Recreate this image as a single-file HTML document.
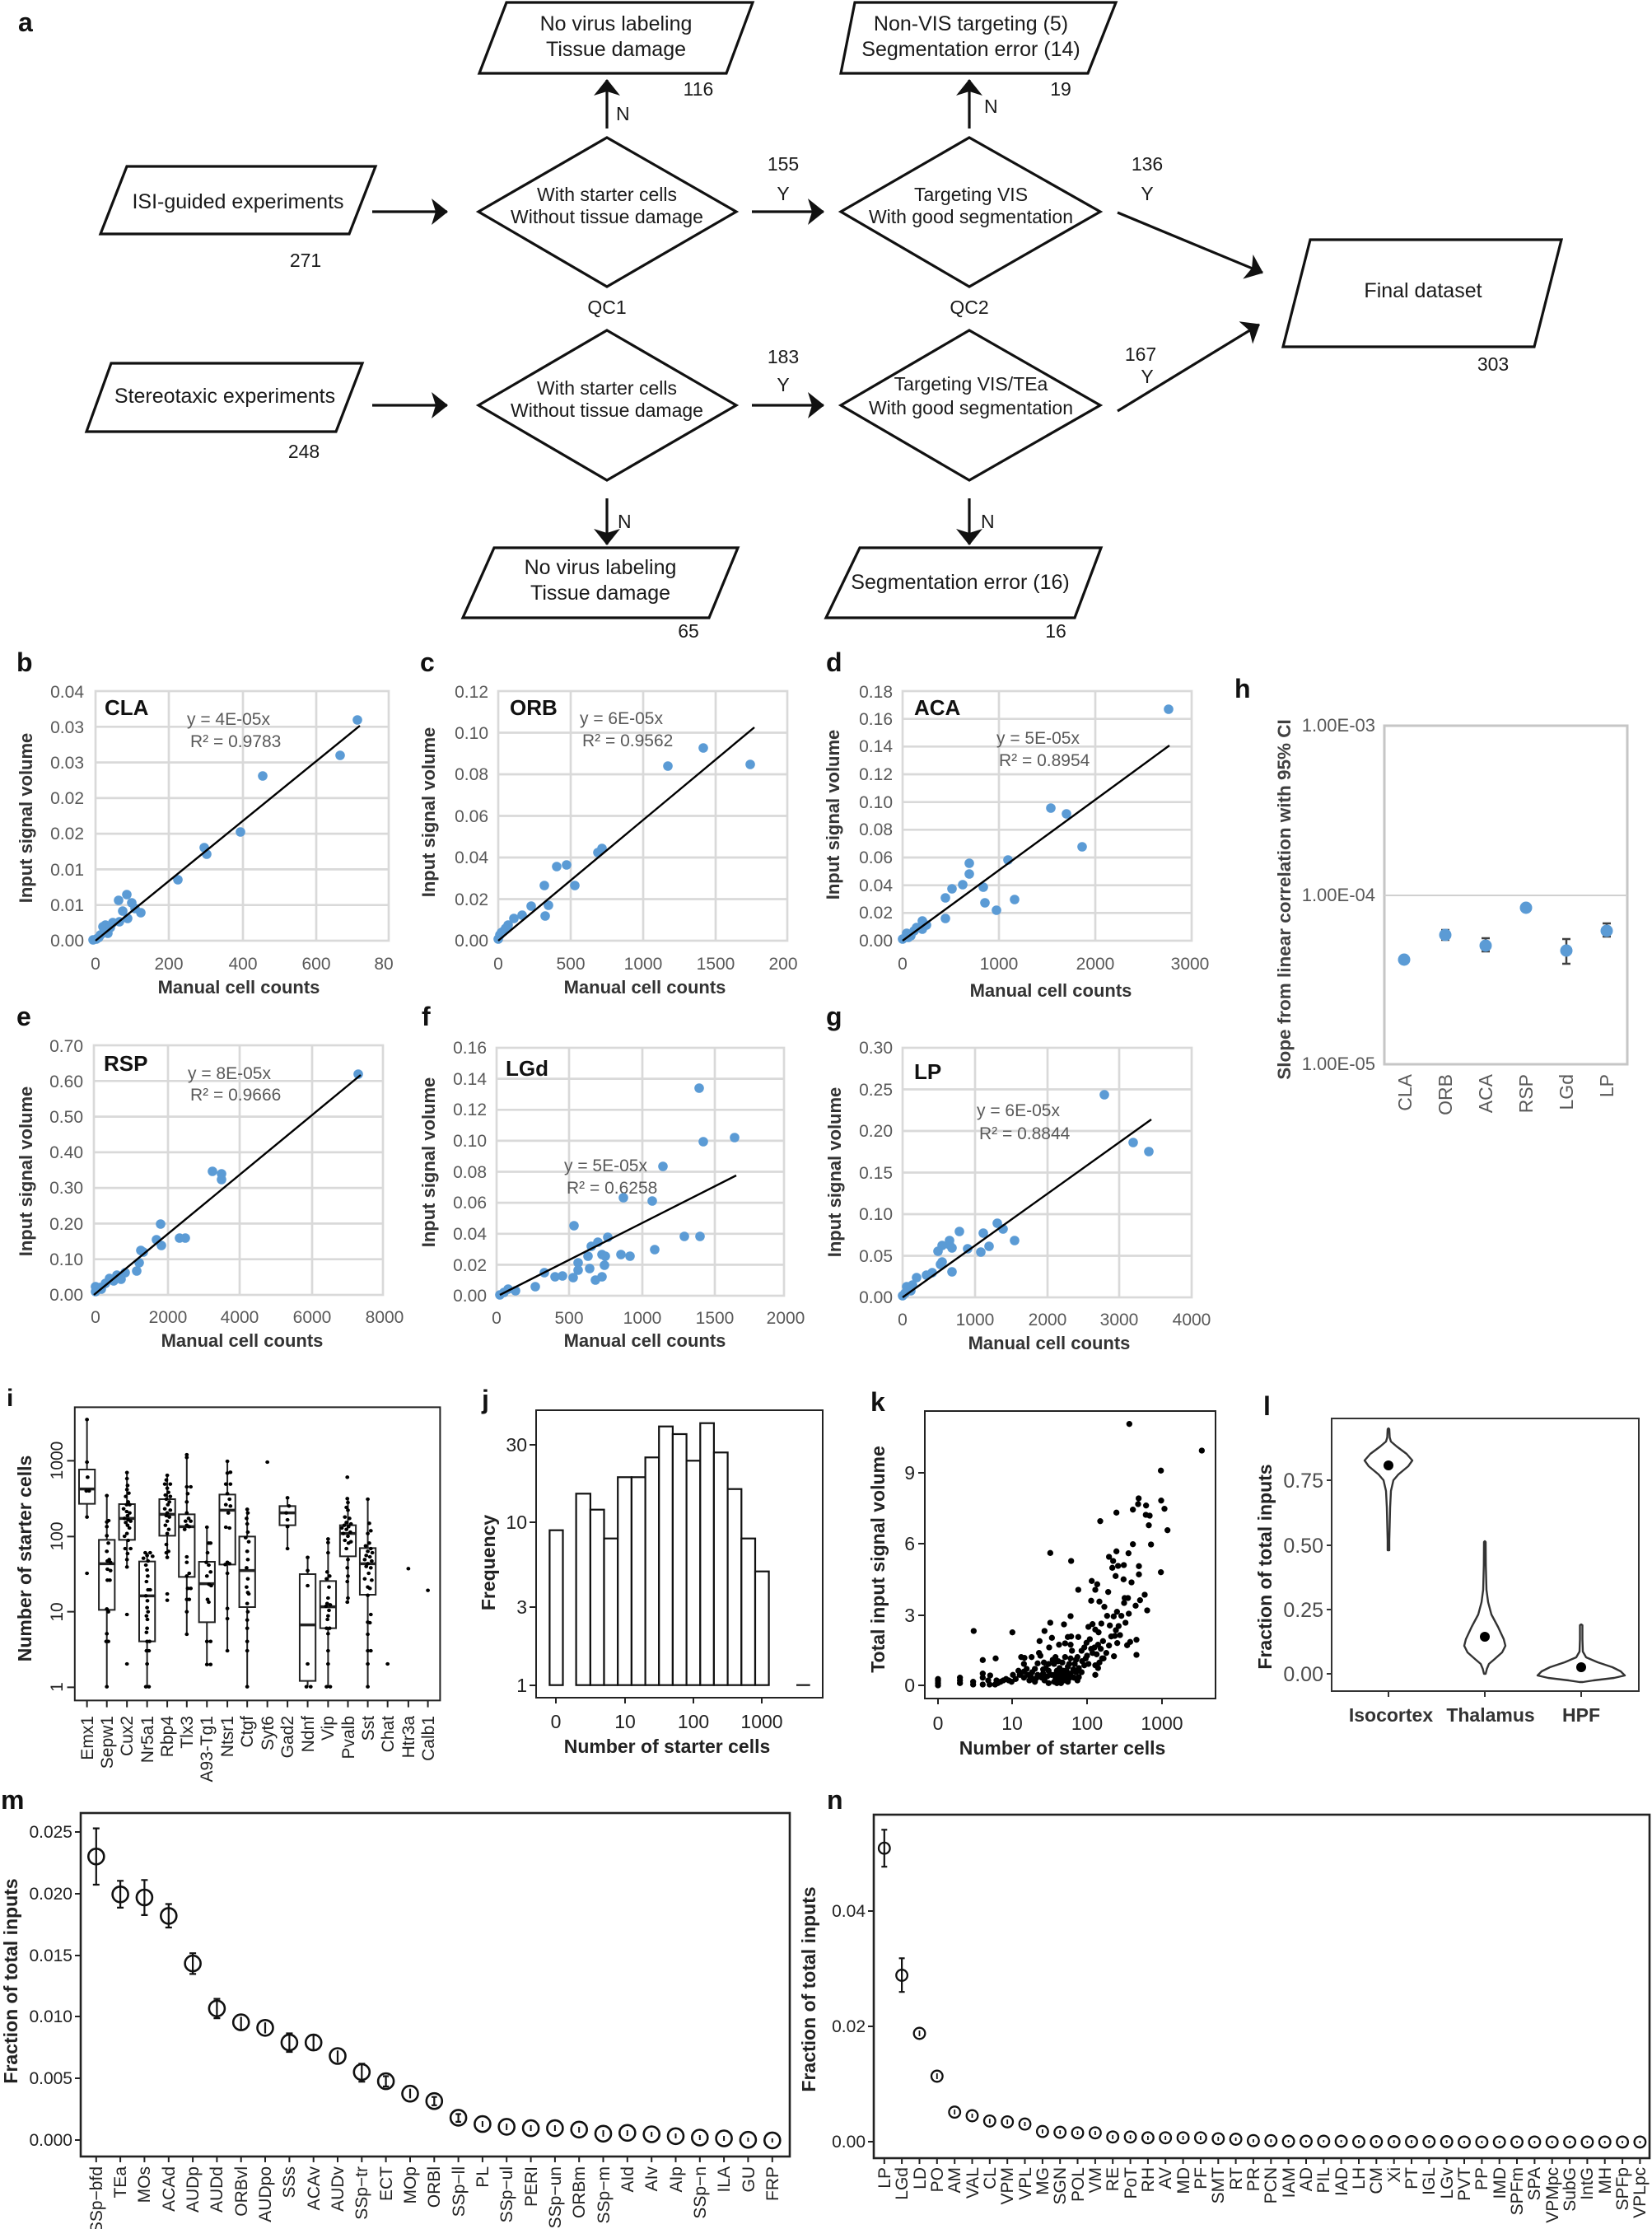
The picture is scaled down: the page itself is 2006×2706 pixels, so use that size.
<!DOCTYPE html>
<html>
<head>
<meta charset="utf-8">
<style>
html,body{margin:0;padding:0;background:#fff;}
svg{display:block;}
text{font-family:"Liberation Sans",Arial,sans-serif;}
.pl{font-size:32px;font-weight:bold;fill:#111;}
.fb{font-size:25px;fill:#1a1a1a;}
.fd{font-size:23px;fill:#1a1a1a;}
.fn{font-size:23px;fill:#1a1a1a;}
.tk{font-size:21px;fill:#595959;}
.eq{font-size:21px;fill:#595959;}
.ttl{font-size:26px;font-weight:bold;fill:#111;}
.ax{font-size:22px;font-weight:bold;fill:#333;}
.axb{font-size:23px;font-weight:bold;fill:#222;}
.rk{font-size:21px;fill:#222;}
.rk2{font-size:23px;fill:#222;}
</style>
</head>
<body>
<svg width="2006" height="2706" viewBox="0 0 2006 2706" xmlns="http://www.w3.org/2000/svg">
<defs>
<marker id="ah" viewBox="0 0 20 32" refX="19" refY="16" markerWidth="20" markerHeight="32" markerUnits="userSpaceOnUse" orient="auto">
<path d="M0,0 L20,16 L0,32 L5,16 z" fill="#111"/>
</marker>
</defs>
<rect x="0" y="0" width="2006" height="2706" fill="#fff"/>

<!-- ================= PANEL A ================= -->
<text class="pl" x="22" y="38">a</text>
<g fill="none" stroke="#111" stroke-width="3.2" stroke-linejoin="miter">
<polygon points="615,3 914,3 882,89 582,89"/>
<polygon points="1038,3 1355,3 1321,89 1021,89"/>
<polygon points="154,202 456,202 424,284 122,284"/>
<polygon points="737,167 894,257 737,348 581,257"/>
<polygon points="1177,167 1336,257 1177,348 1021,257"/>
<polygon points="1591,291 1896,291 1863,421 1558,421"/>
<polygon points="135,441 440,441 408,524 105,524"/>
<polygon points="737,401 894,492 737,583 581,492"/>
<polygon points="1177,401 1336,492 1177,583 1021,492"/>
<polygon points="600,665 896,665 861,750 562,750"/>
<polygon points="1044,665 1337,665 1305,750 1003,750"/>
</g>
<g stroke="#111" stroke-width="3.2" marker-end="url(#ah)">
<line x1="737" y1="156" x2="737" y2="97"/>
<line x1="1177" y1="156" x2="1177" y2="97"/>
<line x1="452" y1="257" x2="543" y2="257"/>
<line x1="913" y1="257" x2="1000" y2="257"/>
<line x1="1357" y1="258" x2="1533" y2="331"/>
<line x1="452" y1="492" x2="543" y2="492"/>
<line x1="913" y1="492" x2="1000" y2="492"/>
<line x1="1357" y1="499" x2="1529" y2="394"/>
<line x1="737" y1="605" x2="737" y2="661"/>
<line x1="1177" y1="605" x2="1177" y2="661"/>
</g>
<g text-anchor="middle">
<text class="fb" x="748" y="37">No virus labeling</text>
<text class="fb" x="748" y="68">Tissue damage</text>
<text class="fb" x="1179" y="37">Non-VIS targeting (5)</text>
<text class="fb" x="1179" y="68">Segmentation error (14)</text>
<text class="fb" x="289" y="253">ISI-guided experiments</text>
<text class="fd" x="737" y="244">With starter cells</text>
<text class="fd" x="737" y="271">Without tissue damage</text>
<text class="fd" x="1179" y="244">Targeting VIS</text>
<text class="fd" x="1179" y="271">With good segmentation</text>
<text class="fb" x="1728" y="361">Final dataset</text>
<text class="fb" x="273" y="489">Stereotaxic experiments</text>
<text class="fd" x="737" y="479">With starter cells</text>
<text class="fd" x="737" y="506">Without tissue damage</text>
<text class="fd" x="1179" y="474">Targeting VIS/TEa</text>
<text class="fd" x="1179" y="503">With good segmentation</text>
<text class="fb" x="729" y="697">No virus labeling</text>
<text class="fb" x="729" y="728">Tissue damage</text>
<text class="fb" x="1166" y="715">Segmentation error (16)</text>
<text class="fn" x="848" y="116">116</text>
<text class="fn" x="1288" y="116">19</text>
<text class="fn" x="371" y="324">271</text>
<text class="fn" x="737" y="381">QC1</text>
<text class="fn" x="1177" y="381">QC2</text>
<text class="fn" x="951" y="207">155</text>
<text class="fn" x="951" y="243">Y</text>
<text class="fn" x="1393" y="207">136</text>
<text class="fn" x="1393" y="243">Y</text>
<text class="fn" x="1813" y="450">303</text>
<text class="fn" x="369" y="556">248</text>
<text class="fn" x="951" y="441">183</text>
<text class="fn" x="951" y="475">Y</text>
<text class="fn" x="1385" y="438">167</text>
<text class="fn" x="1393" y="465">Y</text>
<text class="fn" x="836" y="774">65</text>
<text class="fn" x="1282" y="774">16</text>
</g>
<text class="fn" x="748" y="146">N</text>
<text class="fn" x="1195" y="137">N</text>
<text class="fn" x="750" y="641">N</text>
<text class="fn" x="1191" y="641">N</text>

<!-- ================= PANELS B-G (Excel scatter) ================= -->
<g class="pl">
<text class="pl" x="20" y="815">b</text>
<text class="pl" x="510" y="815">c</text>
<text class="pl" x="1003" y="815">d</text>
<text class="pl" x="20" y="1245">e</text>
<text class="pl" x="512" y="1245">f</text>
<text class="pl" x="1003" y="1245">g</text>
</g>

<!-- grids -->
<g stroke="#d9d9d9" stroke-width="2.7" fill="none">
<rect x="116" y="839" width="356" height="303"/>
<path d="M116 882.3H472M116 925.6H472M116 968.9H472M116 1012.1H472M116 1055.4H472M116 1098.7H472M205 839V1142M295 839V1142M384 839V1142"/>
<rect x="605" y="839" width="351" height="303"/>
<path d="M605 889.5H956M605 940H956M605 990.5H956M605 1041H956M605 1091.5H956M693 839V1142M781 839V1142M869 839V1142"/>
<rect x="1096" y="839" width="351" height="303"/>
<path d="M1096 872.7H1447M1096 906.3H1447M1096 940H1447M1096 973.7H1447M1096 1007.3H1447M1096 1041H1447M1096 1074.7H1447M1096 1108.3H1447M1213 839V1142M1330 839V1142"/>
<rect x="114" y="1269" width="351" height="303"/>
<path d="M114 1312.3H465M114 1355.6H465M114 1398.9H465M114 1442.1H465M114 1485.4H465M114 1528.7H465M204 1269V1572M291 1269V1572M379 1269V1572"/>
<rect x="603" y="1272" width="349" height="301"/>
<path d="M603 1309.6H952M603 1347.3H952M603 1384.9H952M603 1422.5H952M603 1460.1H952M603 1497.8H952M603 1535.4H952M691 1272V1573M780 1272V1573M868 1272V1573"/>
<rect x="1096" y="1272" width="351" height="303"/>
<path d="M1096 1322.5H1447M1096 1373H1447M1096 1423.5H1447M1096 1474H1447M1096 1524.5H1447M1184 1272V1575M1272 1272V1575M1359 1272V1575"/>
</g>

<g class="tk" text-anchor="end">
<text x="102" y="847">0.04</text><text x="102" y="890">0.03</text><text x="102" y="933">0.03</text><text x="102" y="976">0.02</text><text x="102" y="1019">0.02</text><text x="102" y="1063">0.01</text><text x="102" y="1106">0.01</text><text x="102" y="1149">0.00</text>
<text x="593" y="847">0.12</text><text x="593" y="897">0.10</text><text x="593" y="947">0.08</text><text x="593" y="998">0.06</text><text x="593" y="1048">0.04</text><text x="593" y="1099">0.02</text><text x="593" y="1149">0.00</text>
<text x="1084" y="847">0.18</text><text x="1084" y="880">0.16</text><text x="1084" y="913">0.14</text><text x="1084" y="947">0.12</text><text x="1084" y="981">0.10</text><text x="1084" y="1014">0.08</text><text x="1084" y="1048">0.06</text><text x="1084" y="1082">0.04</text><text x="1084" y="1115">0.02</text><text x="1084" y="1149">0.00</text>
<text x="101" y="1277">0.70</text><text x="101" y="1320">0.60</text><text x="101" y="1363">0.50</text><text x="101" y="1406">0.40</text><text x="101" y="1449">0.30</text><text x="101" y="1493">0.20</text><text x="101" y="1536">0.10</text><text x="101" y="1579">0.00</text>
<text x="591" y="1279">0.16</text><text x="591" y="1317">0.14</text><text x="591" y="1354">0.12</text><text x="591" y="1392">0.10</text><text x="591" y="1430">0.08</text><text x="591" y="1467">0.06</text><text x="591" y="1505">0.04</text><text x="591" y="1543">0.02</text><text x="591" y="1580">0.00</text>
<text x="1084" y="1279">0.30</text><text x="1084" y="1330">0.25</text><text x="1084" y="1380">0.20</text><text x="1084" y="1431">0.15</text><text x="1084" y="1481">0.10</text><text x="1084" y="1532">0.05</text><text x="1084" y="1582">0.00</text>
</g>
<g class="tk" text-anchor="middle">
<text x="116" y="1177">0</text><text x="205" y="1177">200</text><text x="295" y="1177">400</text><text x="384" y="1177">600</text><text x="466" y="1177">80</text>
<text x="605" y="1177">0</text><text x="693" y="1177">500</text><text x="781" y="1177">1000</text><text x="869" y="1177">1500</text><text x="951" y="1177">200</text>
<text x="1096" y="1177">0</text><text x="1213" y="1177">1000</text><text x="1330" y="1177">2000</text><text x="1445" y="1177">3000</text>
<text x="116" y="1606">0</text><text x="204" y="1606">2000</text><text x="291" y="1606">4000</text><text x="379" y="1606">6000</text><text x="467" y="1606">8000</text>
<text x="603" y="1607">0</text><text x="691" y="1607">500</text><text x="780" y="1607">1000</text><text x="868" y="1607">1500</text><text x="954" y="1607">2000</text>
<text x="1096" y="1609">0</text><text x="1184" y="1609">1000</text><text x="1272" y="1609">2000</text><text x="1359" y="1609">3000</text><text x="1447" y="1609">4000</text>
</g>

<g class="ax" text-anchor="middle">
<text x="290" y="1206">Manual cell counts</text>
<text x="783" y="1206">Manual cell counts</text>
<text x="1276" y="1210">Manual cell counts</text>
<text x="294" y="1635">Manual cell counts</text>
<text x="783" y="1635">Manual cell counts</text>
<text x="1274" y="1638">Manual cell counts</text>
<text transform="translate(39,993) rotate(-90)">Input signal volume</text>
<text transform="translate(528,986) rotate(-90)">Input signal volume</text>
<text transform="translate(1019,989) rotate(-90)">Input signal volume</text>
<text transform="translate(39,1422) rotate(-90)">Input signal volume</text>
<text transform="translate(528,1411) rotate(-90)">Input signal volume</text>
<text transform="translate(1021,1423) rotate(-90)">Input signal volume</text>
</g>

<text class="ttl" x="127" y="868">CLA</text>
<text class="ttl" x="619" y="868">ORB</text>
<text class="ttl" x="1110" y="868">ACA</text>
<text class="ttl" x="126" y="1300">RSP</text>
<text class="ttl" x="614" y="1306">LGd</text>
<text class="ttl" x="1110" y="1310">LP</text>
<g class="eq">
<text x="227" y="880">y = 4E-05x</text><text x="231" y="907">R² = 0.9783</text>
<text x="704" y="879">y = 6E-05x</text><text x="707" y="906">R² = 0.9562</text>
<text x="1210" y="903">y = 5E-05x</text><text x="1213" y="930">R² = 0.8954</text>
<text x="228" y="1310">y = 8E-05x</text><text x="231" y="1336">R² = 0.9666</text>
<text x="685" y="1422">y = 5E-05x</text><text x="688" y="1449">R² = 0.6258</text>
<text x="1186" y="1355">y = 6E-05x</text><text x="1189" y="1383">R² = 0.8844</text>
</g>

<g fill="#5b9bd5">
<circle cx="434" cy="874" r="5.8"/><circle cx="413" cy="917" r="5.8"/><circle cx="319" cy="942" r="5.8"/><circle cx="292" cy="1010" r="5.8"/><circle cx="248" cy="1029" r="5.8"/><circle cx="251" cy="1037" r="5.8"/><circle cx="216" cy="1068" r="5.8"/><circle cx="154" cy="1086" r="5.8"/><circle cx="144" cy="1093" r="5.8"/><circle cx="160" cy="1096" r="5.8"/><circle cx="149" cy="1106" r="5.8"/><circle cx="164" cy="1103" r="5.8"/><circle cx="171" cy="1108" r="5.8"/><circle cx="155" cy="1115" r="5.8"/><circle cx="145" cy="1119" r="5.8"/><circle cx="137" cy="1120" r="5.8"/><circle cx="128" cy="1123" r="5.8"/><circle cx="125" cy="1125" r="5.8"/><circle cx="131" cy="1133" r="5.8"/><circle cx="122" cy="1135" r="5.8"/><circle cx="117" cy="1140" r="5.8"/><circle cx="113" cy="1141" r="5.8"/><circle cx="120" cy="1138" r="5.8"/><circle cx="127" cy="1128" r="5.8"/><circle cx="134" cy="1126" r="5.8"/>
<circle cx="911" cy="928" r="5.8"/><circle cx="854" cy="908" r="5.8"/><circle cx="811" cy="930" r="5.8"/><circle cx="731" cy="1030" r="5.8"/><circle cx="726" cy="1035" r="5.8"/><circle cx="688" cy="1050" r="5.8"/><circle cx="676" cy="1052" r="5.8"/><circle cx="698" cy="1075" r="5.8"/><circle cx="661" cy="1075" r="5.8"/><circle cx="666" cy="1099" r="5.8"/><circle cx="662" cy="1112" r="5.8"/><circle cx="645" cy="1100" r="5.8"/><circle cx="634" cy="1111" r="5.8"/><circle cx="624" cy="1115" r="5.8"/><circle cx="617" cy="1123" r="5.8"/><circle cx="612" cy="1130" r="5.8"/><circle cx="607" cy="1135" r="5.8"/><circle cx="605" cy="1140" r="5.8"/><circle cx="609" cy="1132" r="5.8"/><circle cx="614" cy="1127" r="5.8"/>
<circle cx="1419" cy="861" r="5.8"/><circle cx="1276" cy="981" r="5.8"/><circle cx="1295" cy="988" r="5.8"/><circle cx="1314" cy="1028" r="5.8"/><circle cx="1224" cy="1044" r="5.8"/><circle cx="1177" cy="1048" r="5.8"/><circle cx="1177" cy="1061" r="5.8"/><circle cx="1169" cy="1074" r="5.8"/><circle cx="1156" cy="1079" r="5.8"/><circle cx="1148" cy="1090" r="5.8"/><circle cx="1194" cy="1077" r="5.8"/><circle cx="1196" cy="1096" r="5.8"/><circle cx="1232" cy="1092" r="5.8"/><circle cx="1210" cy="1105" r="5.8"/><circle cx="1148" cy="1115" r="5.8"/><circle cx="1120" cy="1118" r="5.8"/><circle cx="1120" cy="1128" r="5.8"/><circle cx="1110" cy="1130" r="5.8"/><circle cx="1101" cy="1133" r="5.8"/><circle cx="1106" cy="1136" r="5.8"/><circle cx="1096" cy="1140" r="5.8"/><circle cx="1125" cy="1123" r="5.8"/><circle cx="1103" cy="1138" r="5.8"/><circle cx="1113" cy="1126" r="5.8"/>
<circle cx="435" cy="1304" r="5.8"/><circle cx="258" cy="1422" r="5.8"/><circle cx="269" cy="1425" r="5.8"/><circle cx="269" cy="1432" r="5.8"/><circle cx="195" cy="1486" r="5.8"/><circle cx="190" cy="1505" r="5.8"/><circle cx="196" cy="1512" r="5.8"/><circle cx="218" cy="1503" r="5.8"/><circle cx="225" cy="1503" r="5.8"/><circle cx="171" cy="1518" r="5.8"/><circle cx="174" cy="1520" r="5.8"/><circle cx="169" cy="1533" r="5.8"/><circle cx="166" cy="1543" r="5.8"/><circle cx="152" cy="1545" r="5.8"/><circle cx="142" cy="1548" r="5.8"/><circle cx="147" cy="1553" r="5.8"/><circle cx="138" cy="1555" r="5.8"/><circle cx="133" cy="1552" r="5.8"/><circle cx="128" cy="1558" r="5.8"/><circle cx="121" cy="1563" r="5.8"/><circle cx="116" cy="1562" r="5.8"/><circle cx="116" cy="1568" r="5.8"/><circle cx="123" cy="1565" r="5.8"/>
<circle cx="849" cy="1321" r="5.8"/><circle cx="892" cy="1381" r="5.8"/><circle cx="854" cy="1386" r="5.8"/><circle cx="805" cy="1416" r="5.8"/><circle cx="757" cy="1454" r="5.8"/><circle cx="792" cy="1458" r="5.8"/><circle cx="697" cy="1488" r="5.8"/><circle cx="831" cy="1501" r="5.8"/><circle cx="850" cy="1501" r="5.8"/><circle cx="738" cy="1502" r="5.8"/><circle cx="718" cy="1513" r="5.8"/><circle cx="726" cy="1508" r="5.8"/><circle cx="795" cy="1517" r="5.8"/><circle cx="754" cy="1523" r="5.8"/><circle cx="765" cy="1525" r="5.8"/><circle cx="731" cy="1523" r="5.8"/><circle cx="735" cy="1525" r="5.8"/><circle cx="714" cy="1525" r="5.8"/><circle cx="702" cy="1533" r="5.8"/><circle cx="716" cy="1540" r="5.8"/><circle cx="734" cy="1536" r="5.8"/><circle cx="702" cy="1542" r="5.8"/><circle cx="731" cy="1550" r="5.8"/><circle cx="723" cy="1554" r="5.8"/><circle cx="661" cy="1545" r="5.8"/><circle cx="674" cy="1550" r="5.8"/><circle cx="683" cy="1549" r="5.8"/><circle cx="696" cy="1551" r="5.8"/><circle cx="650" cy="1562" r="5.8"/><circle cx="626" cy="1567" r="5.8"/><circle cx="617" cy="1565" r="5.8"/><circle cx="607" cy="1572" r="5.8"/><circle cx="612" cy="1569" r="5.8"/>
<circle cx="1341" cy="1329" r="5.8"/><circle cx="1376" cy="1387" r="5.8"/><circle cx="1395" cy="1398" r="5.8"/><circle cx="1211" cy="1485" r="5.8"/><circle cx="1218" cy="1492" r="5.8"/><circle cx="1232" cy="1506" r="5.8"/><circle cx="1165" cy="1495" r="5.8"/><circle cx="1194" cy="1497" r="5.8"/><circle cx="1201" cy="1513" r="5.8"/><circle cx="1191" cy="1520" r="5.8"/><circle cx="1175" cy="1516" r="5.8"/><circle cx="1153" cy="1511" r="5.8"/><circle cx="1153" cy="1506" r="5.8"/><circle cx="1144" cy="1512" r="5.8"/><circle cx="1156" cy="1515" r="5.8"/><circle cx="1139" cy="1519" r="5.8"/><circle cx="1144" cy="1532" r="5.8"/><circle cx="1142" cy="1535" r="5.8"/><circle cx="1156" cy="1544" r="5.8"/><circle cx="1132" cy="1545" r="5.8"/><circle cx="1125" cy="1548" r="5.8"/><circle cx="1113" cy="1551" r="5.8"/><circle cx="1108" cy="1560" r="5.8"/><circle cx="1101" cy="1562" r="5.8"/><circle cx="1106" cy="1567" r="5.8"/><circle cx="1099" cy="1570" r="5.8"/><circle cx="1096" cy="1573" r="5.8"/>
</g>
<g stroke="#000" stroke-width="2.4">
<line x1="116" y1="1142" x2="437" y2="881"/>
<line x1="605" y1="1142" x2="916" y2="883"/>
<line x1="1096" y1="1142" x2="1420" y2="905"/>
<line x1="114" y1="1572" x2="438" y2="1305"/>
<line x1="607" y1="1572" x2="894" y2="1427"/>
<line x1="1096" y1="1575" x2="1398" y2="1359"/>
</g>

<!-- ================= PANEL H ================= -->
<text class="pl" x="1499" y="847">h</text>
<rect x="1681" y="881" width="295" height="411" fill="none" stroke="#c6c6c6" stroke-width="3"/>
<line x1="1681" y1="1087" x2="1976" y2="1087" stroke="#d0d0d0" stroke-width="2"/>
<g class="tk" text-anchor="end" style="font-size:22px">
<text x="1670" y="888">1.00E-03</text>
<text x="1670" y="1094">1.00E-04</text>
<text x="1670" y="1299">1.00E-05</text>
</g>
<text transform="translate(1567,1092) rotate(-90)" text-anchor="middle" style="font-size:22.5px;font-weight:bold;fill:#404040">Slope from linear correlation with 95% CI</text>
<g style="font-size:23px;fill:#595959" text-anchor="end">
<text transform="translate(1714,1304) rotate(-90)">CLA</text>
<text transform="translate(1763,1304) rotate(-90)">ORB</text>
<text transform="translate(1812,1304) rotate(-90)">ACA</text>
<text transform="translate(1861,1304) rotate(-90)">RSP</text>
<text transform="translate(1910,1304) rotate(-90)">LGd</text>
<text transform="translate(1959,1304) rotate(-90)">LP</text>
</g>
<g stroke="#404040" stroke-width="2.5" fill="none">
<path d="M1755 1129V1141M1750 1129H1760M1750 1141H1760"/>
<path d="M1804 1139V1155M1799 1139H1809M1799 1155H1809"/>
<path d="M1853 1099V1106M1848 1099H1858M1848 1106H1858"/>
<path d="M1902 1140V1170M1897 1140H1907M1897 1170H1907"/>
<path d="M1951 1121V1137M1946 1121H1956M1946 1137H1956"/>
</g>
<g fill="#5b9bd5">
<circle cx="1705" cy="1165" r="7.5"/><circle cx="1755" cy="1135" r="7.5"/><circle cx="1804" cy="1148" r="7.5"/><circle cx="1853" cy="1102" r="7.5"/><circle cx="1902" cy="1154" r="7.5"/><circle cx="1951" cy="1130" r="7.5"/>
</g>

<!-- ================= PANEL I ================= -->
<text class="pl" x="8" y="1707" style="font-size:30px">i</text>
<g transform="translate(0,1680) scale(0.3706,0.33333)">
<g fill="none" stroke="#222" stroke-width="2" vector-effect="non-scaling-stroke">
<rect x="245" y="85" width="1197" height="1068" vector-effect="non-scaling-stroke"/>
<path vector-effect="non-scaling-stroke" d="M245 280H220M245 556H220M245 830H220M245 1105H220
M285 1153V1178M350 1153V1178M416 1153V1178M482 1153V1178M548 1153V1178M612 1153V1178M678 1153V1178M745 1153V1178M810 1153V1178M876 1153V1178M942 1153V1178M1008 1153V1178M1075 1153V1178M1140 1153V1178M1205 1153V1178M1270 1153V1178M1338 1153V1178M1402 1153V1178"/>
<path vector-effect="non-scaling-stroke" d="M285 130V485M350 407V1103M416 323V667M482 615V1103M548 333V632M612 258V912M678 522V1022M745 282V972M810 457V1103M942 415V600M1008 632V1103M1075 565V1103M1140 415V800M1205 420V1103"/>
</g>
<g fill="#fff" stroke="#222" stroke-width="2">
<rect x="259" y="312" width="52" height="125" vector-effect="non-scaling-stroke"/>
<rect x="324" y="568" width="52" height="255" vector-effect="non-scaling-stroke"/>
<rect x="390" y="438" width="52" height="130" vector-effect="non-scaling-stroke"/>
<rect x="456" y="647" width="52" height="291" vector-effect="non-scaling-stroke"/>
<rect x="522" y="420" width="52" height="133" vector-effect="non-scaling-stroke"/>
<rect x="586" y="475" width="52" height="228" vector-effect="non-scaling-stroke"/>
<rect x="652" y="648" width="52" height="220" vector-effect="non-scaling-stroke"/>
<rect x="719" y="403" width="52" height="255" vector-effect="non-scaling-stroke"/>
<rect x="784" y="556" width="52" height="257" vector-effect="non-scaling-stroke"/>
<rect x="916" y="445" width="52" height="70" vector-effect="non-scaling-stroke"/>
<rect x="982" y="693" width="52" height="389" vector-effect="non-scaling-stroke"/>
<rect x="1049" y="718" width="52" height="172" vector-effect="non-scaling-stroke"/>
<rect x="1114" y="515" width="52" height="113" vector-effect="non-scaling-stroke"/>
<rect x="1179" y="598" width="52" height="170" vector-effect="non-scaling-stroke"/>
</g>
<path fill="none" stroke="#222" stroke-width="3.5" vector-effect="non-scaling-stroke" d="M259 383H311M324 655H376M390 490H442M456 772H508M522 475H574M586 520H638M652 728H704M719 460H771M784 680H836M916 470H968M982 878H1034M1049 812H1101M1114 545H1166M1179 655H1231"/>
<path fill="none" stroke="#000" stroke-width="13" stroke-linecap="round" d="M285 130h0M285 285h0M287 340h0M283 390h0M292 390h0M285 485h0M285 690h0
M350 407h0M356 498h0M350 503h0M350 520h0M350 553h0M355 580h0M350 610h0M358 640h0M352 645h0M362 650h0M352 675h0M362 680h0M352 715h0M360 715h0M350 820h0M355 830h0M350 910h0M355 938h0M348 938h0M350 1103h0
M416 323h0M416 345h0M418 370h0M416 385h0M422 398h0M412 410h0M420 430h0M415 440h0M425 440h0M405 455h0M415 465h0M425 470h0M418 480h0M408 490h0M420 495h0M428 500h0M412 505h0M418 515h0M424 525h0M416 545h0M408 555h0M420 570h0M410 600h0M428 600h0M418 618h0M416 640h0M416 667h0M416 840h0M416 1020h0
M476 615h0M492 615h0M482 625h0M500 628h0M470 635h0M485 645h0M478 660h0M482 678h0M484 700h0M480 720h0M485 750h0M492 750h0M478 772h0M483 790h0M482 815h0M485 830h0M480 845h0M483 858h0M482 890h0M480 905h0M482 938h0M490 938h0M480 972h0M488 972h0M482 1020h0M478 1103h0M488 1103h0
M548 333h0M545 350h0M540 365h0M558 365h0M548 380h0M552 395h0M542 405h0M558 410h0M545 420h0M555 430h0M550 440h0M540 455h0M558 460h0M548 470h0M545 480h0M555 485h0M548 500h0M542 515h0M553 530h0M548 545h0M545 585h0M552 610h0M545 615h0M548 632h0M548 765h0M548 788h0
M612 258h0M612 268h0M612 375h0M625 375h0M615 400h0M612 430h0M612 470h0M618 490h0M608 500h0M625 500h0M612 515h0M620 520h0M605 530h0M612 630h0M612 650h0M620 690h0M612 700h0M615 745h0M625 745h0M612 785h0M620 785h0M612 830h0M612 912h0
M678 522h0M684 580h0M690 580h0M680 615h0M676 650h0M684 660h0M690 685h0M678 700h0M685 730h0M692 735h0M680 785h0M684 795h0M678 938h0M690 938h0M678 1022h0M690 1022h0
M745 282h0M745 325h0M755 322h0M740 365h0M755 365h0M745 400h0M752 420h0M740 440h0M755 445h0M748 470h0M740 522h0M752 525h0M745 650h0M752 655h0M738 658h0M745 690h0M745 818h0M745 855h0M745 972h0
M810 457h0M812 470h0M808 490h0M810 510h0M812 540h0M805 560h0M815 575h0M810 610h0M812 640h0M808 670h0M812 710h0M808 740h0M812 760h0M815 765h0M810 800h0M812 830h0M810 860h0M810 890h0M810 938h0M810 972h0M810 1103h0
M876 285h0
M942 415h0M947 445h0M938 470h0M942 495h0M942 520h0M942 600h0
M1008 632h0M1008 680h0M1008 735h0M1008 1020h0M1004 1103h0M1018 1103h0
M1075 565h0M1075 578h0M1075 615h0M1072 685h0M1080 700h0M1070 710h0M1078 740h0M1075 780h0M1072 800h0M1082 805h0M1068 810h0M1078 825h0M1075 845h0M1073 858h0M1070 890h0M1080 890h0M1075 910h0M1075 972h0M1075 1020h0M1070 1103h0M1082 1103h0
M1138 340h0M1138 418h0M1140 432h0M1135 450h0M1140 460h0M1130 485h0M1145 490h0M1135 505h0M1150 510h0M1128 515h0M1142 520h0M1120 525h0M1135 530h0M1148 540h0M1125 545h0M1140 555h0M1130 570h0M1150 575h0M1142 580h0M1135 600h0M1140 640h0M1138 670h0M1140 700h0M1138 720h0M1140 780h0M1138 795h0
M1205 420h0M1210 508h0M1215 535h0M1205 545h0M1210 580h0M1198 590h0M1215 600h0M1205 610h0M1220 615h0M1200 625h0M1212 630h0M1195 640h0M1218 645h0M1205 655h0M1200 665h0M1215 670h0M1208 690h0M1195 710h0M1218 715h0M1205 740h0M1212 745h0M1205 770h0M1215 840h0M1205 868h0M1212 870h0M1205 912h0M1205 972h0M1215 972h0M1205 1020h0M1205 1103h0
M1270 1020h0M1338 673h0M1402 752h0"/>
</g>
<g class="rk" text-anchor="middle">
<text transform="translate(76,1773) rotate(-90)">1000</text>
<text transform="translate(76,1865) rotate(-90)">100</text>
<text transform="translate(76,1957) rotate(-90)">10</text>
<text transform="translate(76,2048) rotate(-90)">1</text>
</g>
<text class="axb" transform="translate(38,1892) rotate(-90)" text-anchor="middle">Number of starter cells</text>
<g class="rk" text-anchor="end">
<text transform="translate(113,2083) rotate(-90)">Emx1</text>
<text transform="translate(137,2083) rotate(-90)">Sepw1</text>
<text transform="translate(161,2083) rotate(-90)">Cux2</text>
<text transform="translate(186,2083) rotate(-90)">Nr5a1</text>
<text transform="translate(210,2083) rotate(-90)">Rbp4</text>
<text transform="translate(234,2083) rotate(-90)">Tlx3</text>
<text transform="translate(258,2083) rotate(-90)">A93-Tg1</text>
<text transform="translate(283,2083) rotate(-90)">Ntsr1</text>
<text transform="translate(307,2083) rotate(-90)">Ctgf</text>
<text transform="translate(332,2083) rotate(-90)">Syt6</text>
<text transform="translate(356,2083) rotate(-90)">Gad2</text>
<text transform="translate(381,2083) rotate(-90)">Ndnf</text>
<text transform="translate(405,2083) rotate(-90)">Vip</text>
<text transform="translate(430,2083) rotate(-90)">Pvalb</text>
<text transform="translate(454,2083) rotate(-90)">Sst</text>
<text transform="translate(478,2083) rotate(-90)">Chat</text>
<text transform="translate(503,2083) rotate(-90)">Htr3a</text>
<text transform="translate(527,2083) rotate(-90)">Calb1</text>
</g>

<!-- ================= PANEL J ================= -->
<text class="pl" x="585" y="1710">j</text>
<rect x="651" y="1712" width="348" height="349" fill="none" stroke="#222" stroke-width="2"/>
<path fill="none" stroke="#222" stroke-width="2" d="M643 1754H651M643 1848H651M643 1951H651M643 2046H651M675 2061V2068M759 2061V2068M842 2061V2068M925 2061V2068"/>
<g fill="#fff" stroke="#111" stroke-width="2.2">
<rect x="667.4" y="1857.7" width="16.1" height="188"/>
<rect x="699.6" y="1813.3" width="17.3" height="232.4"/>
<rect x="716.9" y="1832.7" width="16.6" height="213"/>
<rect x="733.5" y="1867.7" width="16.7" height="178"/>
<rect x="750.2" y="1793.3" width="16.7" height="252.4"/>
<rect x="766.9" y="1793.3" width="16.7" height="252.4"/>
<rect x="783.6" y="1769.3" width="16.6" height="276.4"/>
<rect x="800.2" y="1731.7" width="16.7" height="314"/>
<rect x="816.9" y="1741" width="16.7" height="304.7"/>
<rect x="833.6" y="1773.3" width="16.7" height="272.4"/>
<rect x="850.3" y="1727.7" width="16.6" height="318"/>
<rect x="866.9" y="1763.3" width="16.7" height="282.4"/>
<rect x="883.6" y="1807.7" width="16.7" height="238"/>
<rect x="900.3" y="1867.7" width="16.7" height="178"/>
<rect x="917" y="1907.7" width="16.6" height="138"/>
</g>
<line x1="967" y1="2045.7" x2="983.7" y2="2045.7" stroke="#111" stroke-width="2.2"/>
<g class="rk2" text-anchor="end">
<text x="640" y="1762">30</text><text x="640" y="1856">10</text><text x="640" y="1959">3</text><text x="640" y="2054">1</text>
</g>
<g class="rk2" text-anchor="middle">
<text x="675" y="2098">0</text><text x="759" y="2098">10</text><text x="842" y="2098">100</text><text x="925" y="2098">1000</text>
</g>
<text class="axb" x="810" y="2128" text-anchor="middle">Number of starter cells</text>
<text class="axb" transform="translate(601,1897) rotate(-90)" text-anchor="middle">Frequency</text>

<!-- ================= PANEL K ================= -->
<text class="pl" x="1057" y="1713">k</text>
<rect x="1123" y="1713" width="353" height="349" fill="none" stroke="#222" stroke-width="2"/>
<path fill="none" stroke="#222" stroke-width="2" d="M1115 1788H1123M1115 1874H1123M1115 1961H1123M1115 2046H1123M1139 2062V2069M1229 2062V2069M1320 2062V2069M1411 2062V2069"/>
<g class="rk2" text-anchor="end">
<text x="1111" y="1796">9</text><text x="1111" y="1882">6</text><text x="1111" y="1969">3</text><text x="1111" y="2054">0</text>
</g>
<g class="rk2" text-anchor="middle">
<text x="1139" y="2100">0</text><text x="1229" y="2100">10</text><text x="1320" y="2100">100</text><text x="1411" y="2100">1000</text>
</g>
<text class="axb" x="1290" y="2130" text-anchor="middle">Number of starter cells</text>
<text class="axb" transform="translate(1074,1893) rotate(-90)" text-anchor="middle">Total input signal volume</text>
<g transform="translate(1100,1700) scale(0.33333)">
<path fill="none" stroke="#000" stroke-width="22" stroke-linecap="round" d="M814 86h0M1078 183h0M929 256h0M930 365h0M848 357h0M942 395h0M875 383h0M846 378h0M827 398h0M874 417h0M888 420h0M885 455h0M767 409h0M708 440h0M953 473h0M893 525h0M827 524h0M526 556h0M602 585h0M767 550h0M811 557h0M740 570h0M755 585h0M752 610h0M773 603h0M794 600h0M849 604h0M764 640h0M849 634h0M793 652h0M822 663h0M929 626h0M677 658h0M697 670h0M690 690h0M628 690h0M737 698h0M797 720h0M809 720h0M870 708h0M853 728h0M675 730h0M705 733h0M795 738h0M837 748h0M723 752h0M879 765h0M769 770h0M812 777h0M757 787h0M785 785h0M733 785h0M600 786h0M526 810h0M576 816h0M665 825h0M680 815h0M712 813h0M690 835h0M702 845h0M743 820h0M775 822h0M765 837h0M800 810h0M761 858h0M748 860h0M780 855h0M505 840h0M247 840h0M388 845h0M532 865h0M487 877h0M590 862h0M602 860h0M628 862h0M558 890h0M580 885h0M600 890h0M522 900h0M605 912h0M640 912h0M658 883h0M670 870h0M687 900h0M700 890h0M718 877h0M740 893h0M770 884h0M806 892h0M817 880h0M840 872h0M840 927h0M758 932h0M730 920h0M715 940h0M680 920h0M660 930h0M642 950h0M620 945h0M600 940h0M580 935h0M555 950h0M545 935h0M520 960h0M503 955h0M485 920h0M490 930h0M458 935h0M432 938h0M420 935h0M280 946h0M327 940h0M430 960h0M460 990h0M470 978h0M480 958h0M500 980h0M520 985h0M540 960h0M560 975h0M575 985h0M590 970h0M610 980h0M630 975h0M650 965h0M665 960h0M690 965h0M700 975h0M705 955h0M720 940h0M690 1000h0M630 1008h0M612 1010h0M595 1012h0M580 1020h0M560 1015h0M545 1010h0M530 1000h0M515 1005h0M505 1020h0M495 1010h0M475 1012h0M470 1025h0M450 1020h0M445 1000h0M430 1010h0M415 1000h0M410 985h0M400 1015h0M390 1000h0M385 1025h0M375 1020h0M365 1015h0M355 1020h0M345 1025h0M335 1030h0M325 1035h0M305 1035h0M300 1020h0M280 1035h0M280 1010h0M280 995h0M307 1002h0M330 1020h0M245 1025h0M245 1035h0M197 1010h0M197 1020h0M197 1030h0M117 1022h0M117 1030h0M117 1038h0M117 1015h0M430 988h0M440 978h0M455 1005h0M520 1030h0M540 1025h0M565 1030h0M575 1005h0M560 995h0M550 985h0M600 995h0M620 990h0M640 990h0M510 975h0M500 995h0M540 1000h0M555 1010h0M570 995h0M585 985h0M600 1000h0M480 1000h0M460 1015h0M655 940h0M675 905h0M695 925h0M710 905h0M650 900h0M625 935h0M570 955h0M535 945h0M595 960h0M615 960h0M585 1000h0M565 1000h0M550 1030h0M590 1025h0M625 1020h0"/>
</g>

<!-- ================= PANEL L ================= -->
<text class="pl" x="1534" y="1718">l</text>
<rect x="1617" y="1722" width="373" height="331" fill="none" stroke="#333" stroke-width="2"/>
<path fill="none" stroke="#333" stroke-width="2" d="M1611 1797H1617M1611 1876H1617M1611 1954H1617M1611 2032H1617M1686 2053V2060M1803 2053V2060M1920 2053V2060"/>
<g text-anchor="end" style="font-size:25px;fill:#4d4d4d">
<text x="1607" y="1806">0.75</text><text x="1607" y="1885">0.50</text><text x="1607" y="1963">0.25</text><text x="1607" y="2041">0.00</text>
</g>
<g class="axb" text-anchor="middle" style="fill:#333">
<text x="1689" y="2090">Isocortex</text><text x="1810" y="2090">Thalamus</text><text x="1920" y="2090">HPF</text>
</g>
<text class="axb" transform="translate(1544,1902) rotate(-90)" text-anchor="middle">Fraction of total inputs</text>
<g fill="none" stroke="#333" stroke-width="2.4" stroke-linejoin="round">
<path d="M1686 1734 L1687 1735 L1687.5 1745 L1689 1750 L1696 1756 L1708 1765 L1715 1773 L1710 1780 L1698 1790 L1692 1797 L1689 1810 L1688 1830 L1687.5 1850 L1687 1870 L1687 1882 L1685 1882 L1685 1870 L1684.5 1850 L1684 1830 L1683 1810 L1680 1797 L1674 1790 L1662 1780 L1657 1773 L1664 1765 L1676 1756 L1683 1750 L1684.5 1745 L1685 1735 Z"/>
<path d="M1803 1871 L1804 1872 L1804.2 1900 L1805 1930 L1807 1945 L1811 1960 L1819 1975 L1826 1990 L1828 1998 L1824 2006 L1815 2014 L1808 2020 L1805.5 2026 L1804 2032 L1802 2032 L1800.5 2026 L1798 2020 L1791 2014 L1782 2006 L1778 1998 L1780 1990 L1787 1975 L1795 1960 L1799 1945 L1801 1930 L1801.8 1900 L1802 1872 Z"/>
<path d="M1920 1972 L1921.5 1973 L1921.5 1990 L1922 2005 L1926 2012 L1940 2018 L1958 2024 L1968 2029 L1973 2034 L1960 2037 L1935 2040 L1922 2042 L1918 2042 L1905 2040 L1880 2037 L1867 2034 L1872 2029 L1882 2024 L1900 2018 L1914 2012 L1918 2005 L1918.5 1990 L1918.5 1973 Z"/>
</g>
<g fill="#000">
<circle cx="1686" cy="1779" r="6"/><circle cx="1803" cy="1987" r="6"/><circle cx="1920" cy="2024" r="6"/>
</g>

<!-- ================= PANEL M ================= -->
<text class="pl" x="1" y="2196">m</text>
<rect x="98" y="2201" width="861" height="417" fill="none" stroke="#222" stroke-width="2.6"/>
<path fill="none" stroke="#222" stroke-width="2" d="M91 2224H98M91 2299H98M91 2374H98M91 2448H98M91 2523H98M91 2598H98"/>
<g class="rk" text-anchor="end">
<text x="88" y="2231">0.025</text><text x="88" y="2306">0.020</text><text x="88" y="2381">0.015</text><text x="88" y="2455">0.010</text><text x="88" y="2530">0.005</text><text x="88" y="2605">0.000</text>
</g>
<text class="axb" transform="translate(21,2405) rotate(-90)" text-anchor="middle">Fraction of total inputs</text>
<path fill="none" stroke="#111" stroke-width="2.2" d="M116.8 2219.6V2288M112.8 2219.6H120.8M112.8 2288H120.8
M146.1 2283.3V2315.9M142.1 2283.3H150.1M142.1 2315.9H150.1
M175.4 2282.3V2324.9M171.4 2282.3H179.4M171.4 2324.9H179.4
M204.8 2311.5V2340M200.8 2311.5H208.8M200.8 2340H208.8
M234.1 2371.2V2396.4M230.1 2371.2H238.1M230.1 2396.4H238.1
M263.4 2426.6V2450.1M259.4 2426.6H267.4M259.4 2450.1H267.4
M292.7 2448.4V2463.5M322 2455.1V2468.5
M351.4 2468.5V2491M347.4 2468.5H355.4M347.4 2491H355.4
M380.7 2470.5V2488.7M376.7 2470.5H384.7M376.7 2488.7H384.7
M410 2489.3V2503.8
M439.3 2505.4V2527.2M435.3 2505.4H443.3M435.3 2527.2H443.3
M468.6 2520.5V2533M465 2520.5H472.2M465 2533H472.2
M498 2535.6V2547.4M527.3 2545.7V2555.8M524 2545.7H530.6M524 2555.8H530.6
M556.6 2566.5V2575.9M553.3 2566.5H559.9M553.3 2575.9H559.9"/>
<g fill="none" stroke="#111" stroke-width="2.6">
<circle cx="116.8" cy="2253.8" r="9.5"/><circle cx="146.1" cy="2299.8" r="9.5"/><circle cx="175.4" cy="2303.5" r="9.5"/><circle cx="204.8" cy="2325.9" r="9.5"/><circle cx="234.1" cy="2383.6" r="9.5"/><circle cx="263.4" cy="2438.3" r="9.5"/><circle cx="292.7" cy="2455.1" r="9.5"/><circle cx="322" cy="2461.8" r="9.5"/><circle cx="351.4" cy="2479.6" r="9.5"/><circle cx="380.7" cy="2479.6" r="9.5"/><circle cx="410" cy="2496" r="9.5"/><circle cx="439.3" cy="2515.5" r="9.5"/><circle cx="468.6" cy="2526.6" r="9.5"/><circle cx="498" cy="2541.7" r="9.5"/><circle cx="527.3" cy="2550.7" r="9.5"/><circle cx="556.6" cy="2570.9" r="9.5"/><circle cx="585.9" cy="2578.6" r="9.5"/><circle cx="615.2" cy="2581.9" r="9.5"/><circle cx="644.6" cy="2583.6" r="9.5"/><circle cx="673.9" cy="2583.6" r="9.5"/><circle cx="703.2" cy="2585.3" r="9.5"/><circle cx="732.5" cy="2590.3" r="9.5"/><circle cx="761.8" cy="2589.3" r="9.5"/><circle cx="791.2" cy="2591" r="9.5"/><circle cx="820.5" cy="2593.3" r="9.5"/><circle cx="849.8" cy="2595" r="9.5"/><circle cx="879.1" cy="2596" r="9.5"/><circle cx="908.4" cy="2597.7" r="9.5"/><circle cx="937.8" cy="2598.4" r="9.5"/>
</g>
<path fill="none" stroke="#111" stroke-width="2" d="M585.9 2575V2582M615.2 2578V2586M644.6 2580V2587M673.9 2580V2587M703.2 2582V2589M732.5 2586V2594M761.8 2586V2593M791.2 2588V2594M820.5 2590V2596M849.8 2592V2598M879.1 2593V2599M908.4 2595V2600M937.8 2596V2601"/>
<path fill="none" stroke="#222" stroke-width="2" d="M116.8 2618V2625M146.1 2618V2625M175.4 2618V2625M204.8 2618V2625M234.1 2618V2625M263.4 2618V2625M292.7 2618V2625M322 2618V2625M351.4 2618V2625M380.7 2618V2625M410 2618V2625M439.3 2618V2625M468.6 2618V2625M498 2618V2625M527.3 2618V2625M556.6 2618V2625M585.9 2618V2625M615.2 2618V2625M644.6 2618V2625M673.9 2618V2625M703.2 2618V2625M732.5 2618V2625M761.8 2618V2625M791.2 2618V2625M820.5 2618V2625M849.8 2618V2625M879.1 2618V2625M908.4 2618V2625M937.8 2618V2625"/>
<g class="rk" text-anchor="end">
<text transform="translate(124,2630) rotate(-90)">SSp−bfd</text>
<text transform="translate(153,2630) rotate(-90)">TEa</text>
<text transform="translate(182,2630) rotate(-90)">MOs</text>
<text transform="translate(212,2630) rotate(-90)">ACAd</text>
<text transform="translate(241,2630) rotate(-90)">AUDp</text>
<text transform="translate(270,2630) rotate(-90)">AUDd</text>
<text transform="translate(300,2630) rotate(-90)">ORBvl</text>
<text transform="translate(329,2630) rotate(-90)">AUDpo</text>
<text transform="translate(358,2630) rotate(-90)">SSs</text>
<text transform="translate(388,2630) rotate(-90)">ACAv</text>
<text transform="translate(417,2630) rotate(-90)">AUDv</text>
<text transform="translate(446,2630) rotate(-90)">SSp−tr</text>
<text transform="translate(476,2630) rotate(-90)">ECT</text>
<text transform="translate(505,2630) rotate(-90)">MOp</text>
<text transform="translate(534,2630) rotate(-90)">ORBl</text>
<text transform="translate(564,2630) rotate(-90)">SSp−ll</text>
<text transform="translate(593,2630) rotate(-90)">PL</text>
<text transform="translate(622,2630) rotate(-90)">SSp−ul</text>
<text transform="translate(652,2630) rotate(-90)">PERI</text>
<text transform="translate(681,2630) rotate(-90)">SSp−un</text>
<text transform="translate(710,2630) rotate(-90)">ORBm</text>
<text transform="translate(740,2630) rotate(-90)">SSp−m</text>
<text transform="translate(769,2630) rotate(-90)">AId</text>
<text transform="translate(798,2630) rotate(-90)">AIv</text>
<text transform="translate(828,2630) rotate(-90)">AIp</text>
<text transform="translate(857,2630) rotate(-90)">SSp−n</text>
<text transform="translate(886,2630) rotate(-90)">ILA</text>
<text transform="translate(916,2630) rotate(-90)">GU</text>
<text transform="translate(945,2630) rotate(-90)">FRP</text>
</g>

<!-- ================= PANEL N ================= -->
<text class="pl" x="1004" y="2196">n</text>
<rect x="1061" y="2203" width="942" height="417" fill="none" stroke="#222" stroke-width="2.6"/>
<path fill="none" stroke="#222" stroke-width="2" d="M1054 2320H1061M1054 2460H1061M1054 2600H1061"/>
<g class="rk" text-anchor="end">
<text x="1051" y="2327">0.04</text><text x="1051" y="2467">0.02</text><text x="1051" y="2607">0.00</text>
</g>
<text class="axb" transform="translate(990,2415) rotate(-90)" text-anchor="middle">Fraction of total inputs</text>
<path fill="none" stroke="#111" stroke-width="2.2" d="M1073.8 2221.3V2266.2M1070.3 2221.3H1077.3M1070.3 2266.2H1077.3M1095.1 2377.3V2418.2M1091.6 2377.3H1098.6M1091.6 2418.2H1098.6"/>
<g fill="none" stroke="#111" stroke-width="2.3">
<circle cx="1073.8" cy="2243.7" r="6.8"/><circle cx="1095.1" cy="2398" r="6.8"/><circle cx="1116.5" cy="2468.5" r="6.8"/><circle cx="1137.8" cy="2520.5" r="6.8"/><circle cx="1159.2" cy="2564.1" r="6.8"/><circle cx="1180.5" cy="2568.5" r="6.8"/><circle cx="1201.8" cy="2574.9" r="6.8"/><circle cx="1223.2" cy="2575.9" r="6.8"/><circle cx="1244.5" cy="2578.6" r="6.8"/><circle cx="1265.9" cy="2587.6" r="6.8"/><circle cx="1287.2" cy="2588.6" r="6.8"/><circle cx="1308.5" cy="2589.3" r="6.8"/><circle cx="1329.9" cy="2589.3" r="6.8"/><circle cx="1351.2" cy="2594.3" r="6.8"/><circle cx="1372.6" cy="2594.3" r="6.8"/><circle cx="1393.9" cy="2595.3" r="6.8"/><circle cx="1415.2" cy="2595.3" r="6.8"/><circle cx="1436.6" cy="2595.3" r="6.8"/><circle cx="1457.9" cy="2595.3" r="6.8"/><circle cx="1479.3" cy="2596.4" r="6.8"/><circle cx="1500.6" cy="2597" r="6.8"/><circle cx="1521.9" cy="2598.7" r="6.8"/><circle cx="1543.3" cy="2598.7" r="6.8"/><circle cx="1564.6" cy="2599.5" r="6.8"/><circle cx="1586" cy="2599.5" r="6.8"/><circle cx="1607.3" cy="2599.5" r="6.8"/><circle cx="1628.6" cy="2599.5" r="6.8"/><circle cx="1650" cy="2600" r="6.8"/><circle cx="1671.3" cy="2600" r="6.8"/><circle cx="1692.7" cy="2600" r="6.8"/><circle cx="1714" cy="2600" r="6.8"/><circle cx="1735.3" cy="2600" r="6.8"/><circle cx="1756.7" cy="2600" r="6.8"/><circle cx="1778" cy="2600.4" r="6.8"/><circle cx="1799.4" cy="2600.4" r="6.8"/><circle cx="1820.7" cy="2600.4" r="6.8"/><circle cx="1842" cy="2600.4" r="6.8"/><circle cx="1863.4" cy="2600.4" r="6.8"/><circle cx="1884.7" cy="2600.4" r="6.8"/><circle cx="1906.1" cy="2600.4" r="6.8"/><circle cx="1927.4" cy="2600.4" r="6.8"/><circle cx="1948.7" cy="2600.4" r="6.8"/><circle cx="1970.1" cy="2600.4" r="6.8"/><circle cx="1991.4" cy="2600.4" r="6.8"/>
</g>
<path fill="none" stroke="#111" stroke-width="1.8" d="M1116.5 2465V2472M1137.8 2517V2524M1159.2 2561V2567M1180.5 2566V2571M1201.8 2572V2578M1223.2 2573V2579M1244.5 2576V2581M1265.9 2585V2590M1287.2 2586V2591M1308.5 2587V2592M1329.9 2587V2592M1351.2 2592V2597M1372.6 2592V2597M1393.9 2593V2598M1415.2 2593V2598M1436.6 2593V2598M1457.9 2593V2598M1479.3 2594V2599M1500.6 2595V2599M1521.9 2597V2601M1543.3 2597V2601M1564.6 2598V2601M1586 2598V2601M1607.3 2598V2601M1628.6 2598V2601M1650 2598V2602M1671.3 2598V2602M1692.7 2598V2602M1714 2598V2602M1735.3 2598V2602M1756.7 2598V2602M1778 2599V2602M1799.4 2599V2602M1820.7 2599V2602M1842 2599V2602M1863.4 2599V2602M1884.7 2599V2602M1906.1 2599V2602M1927.4 2599V2602M1948.7 2599V2602M1970.1 2599V2602M1991.4 2599V2602"/>
<path fill="none" stroke="#222" stroke-width="2" d="M1073.8 2620V2627M1095.1 2620V2627M1116.5 2620V2627M1137.8 2620V2627M1159.2 2620V2627M1180.5 2620V2627M1201.8 2620V2627M1223.2 2620V2627M1244.5 2620V2627M1265.9 2620V2627M1287.2 2620V2627M1308.5 2620V2627M1329.9 2620V2627M1351.2 2620V2627M1372.6 2620V2627M1393.9 2620V2627M1415.2 2620V2627M1436.6 2620V2627M1457.9 2620V2627M1479.3 2620V2627M1500.6 2620V2627M1521.9 2620V2627M1543.3 2620V2627M1564.6 2620V2627M1586 2620V2627M1607.3 2620V2627M1628.6 2620V2627M1650 2620V2627M1671.3 2620V2627M1692.7 2620V2627M1714 2620V2627M1735.3 2620V2627M1756.7 2620V2627M1778 2620V2627M1799.4 2620V2627M1820.7 2620V2627M1842 2620V2627M1863.4 2620V2627M1884.7 2620V2627M1906.1 2620V2627M1927.4 2620V2627M1948.7 2620V2627M1970.1 2620V2627M1991.4 2620V2627"/>
<g class="rk" text-anchor="end">
<text transform="translate(1081,2631) rotate(-90)">LP</text>
<text transform="translate(1102,2631) rotate(-90)">LGd</text>
<text transform="translate(1124,2631) rotate(-90)">LD</text>
<text transform="translate(1145,2631) rotate(-90)">PO</text>
<text transform="translate(1166,2631) rotate(-90)">AM</text>
<text transform="translate(1188,2631) rotate(-90)">VAL</text>
<text transform="translate(1209,2631) rotate(-90)">CL</text>
<text transform="translate(1230,2631) rotate(-90)">VPM</text>
<text transform="translate(1252,2631) rotate(-90)">VPL</text>
<text transform="translate(1273,2631) rotate(-90)">MG</text>
<text transform="translate(1294,2631) rotate(-90)">SGN</text>
<text transform="translate(1316,2631) rotate(-90)">POL</text>
<text transform="translate(1337,2631) rotate(-90)">VM</text>
<text transform="translate(1358,2631) rotate(-90)">RE</text>
<text transform="translate(1380,2631) rotate(-90)">PoT</text>
<text transform="translate(1401,2631) rotate(-90)">RH</text>
<text transform="translate(1422,2631) rotate(-90)">AV</text>
<text transform="translate(1444,2631) rotate(-90)">MD</text>
<text transform="translate(1465,2631) rotate(-90)">PF</text>
<text transform="translate(1486,2631) rotate(-90)">SMT</text>
<text transform="translate(1508,2631) rotate(-90)">RT</text>
<text transform="translate(1529,2631) rotate(-90)">PR</text>
<text transform="translate(1550,2631) rotate(-90)">PCN</text>
<text transform="translate(1572,2631) rotate(-90)">IAM</text>
<text transform="translate(1593,2631) rotate(-90)">AD</text>
<text transform="translate(1614,2631) rotate(-90)">PIL</text>
<text transform="translate(1636,2631) rotate(-90)">IAD</text>
<text transform="translate(1657,2631) rotate(-90)">LH</text>
<text transform="translate(1678,2631) rotate(-90)">CM</text>
<text transform="translate(1700,2631) rotate(-90)">Xi</text>
<text transform="translate(1721,2631) rotate(-90)">PT</text>
<text transform="translate(1742,2631) rotate(-90)">IGL</text>
<text transform="translate(1764,2631) rotate(-90)">LGv</text>
<text transform="translate(1785,2631) rotate(-90)">PVT</text>
<text transform="translate(1806,2631) rotate(-90)">PP</text>
<text transform="translate(1828,2631) rotate(-90)">IMD</text>
<text transform="translate(1849,2631) rotate(-90)">SPFm</text>
<text transform="translate(1870,2631) rotate(-90)">SPA</text>
<text transform="translate(1892,2631) rotate(-90)">VPMpc</text>
<text transform="translate(1913,2631) rotate(-90)">SubG</text>
<text transform="translate(1934,2631) rotate(-90)">IntG</text>
<text transform="translate(1956,2631) rotate(-90)">MH</text>
<text transform="translate(1977,2631) rotate(-90)">SPFp</text>
<text transform="translate(1998,2631) rotate(-90)">VPLpc</text>
</g>
</svg>
</body>
</html>
